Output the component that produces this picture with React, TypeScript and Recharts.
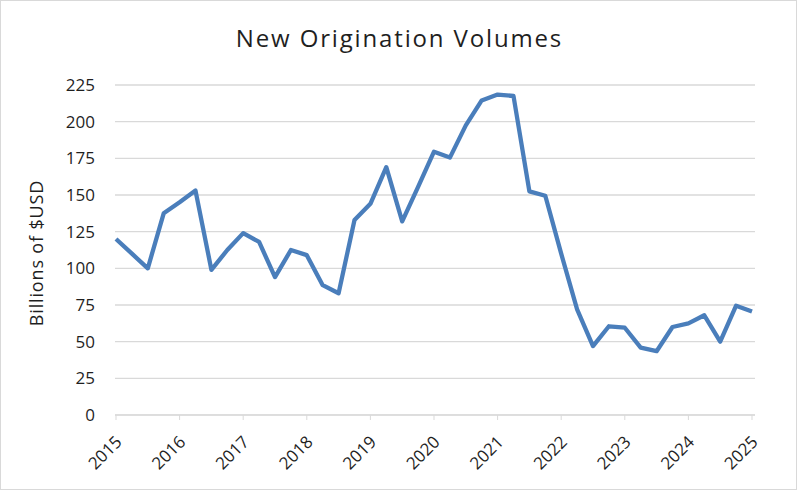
import React from "react";
import { LineChart, Line, XAxis, YAxis, CartesianGrid } from "recharts";

// years on the category axis (one label per year, data is quarterly)
const years = [2015, 2016, 2017, 2018, 2019, 2020, 2021, 2022, 2023, 2024, 2025];

// quarterly new origination volumes, billions of USD (2015 Q1 .. 2025 Q1)
const volumes = [
  120, 110, 100, 137.5,
  145, 153, 99, 112.5,
  124, 118, 94, 112.5,
  109, 88.5, 83, 133,
  144, 169, 132, 155.5,
  179.5, 175.5, 197.5, 214.5,
  218.5, 217.5, 152.5, 149.5,
  110, 72, 47, 60.5,
  59.5, 46, 43.5, 60,
  62.5, 68, 50, 74.5,
  70.5,
];

const yTicks = [0, 25, 50, 75, 100, 125, 150, 175, 200, 225];

const quarters = years.flatMap((y) => [`${y} Q1`, `${y} Q2`, `${y} Q3`, `${y} Q4`]);
const data = volumes.map((v, i) => ({ quarter: quarters[i], volume: v }));

const FONT = "'Open Sans', sans-serif";
const TEXT = "#1f1f1f";
const GRID = "#d9d9d9";

const YearTick = (props: any) => {
  const { x, y, payload } = props;
  const ax = x + 7;
  const ay = y + 21;
  return (
    <text
      x={ax}
      y={ay}
      textAnchor="end"
      fill={TEXT}
      fontSize={17}
      fontFamily={FONT}
      transform={`rotate(-45, ${ax}, ${ay})`}
    >
      {String(payload.value).slice(0, 4)}
    </text>
  );
};

export default function App() {
  return (
    <div style={{ position: "absolute", top: 0, left: 0, width: 797, height: 490, background: "#fff" }}>
      <div
        style={{
          position: "absolute",
          top: 26,
          left: 0,
          width: 797,
          paddingLeft: 2,
          boxSizing: "border-box",
          textAlign: "center",
          fontFamily: FONT,
          fontSize: 24,
          lineHeight: "24px",
          letterSpacing: 1.85,
          color: TEXT,
        }}
      >
        New Origination Volumes
      </div>
      <div
        style={{
          position: "absolute",
          left: 36 - 100,
          top: 253 - 12,
          width: 200,
          height: 24,
          lineHeight: "24px",
          textAlign: "center",
          transform: "rotate(-90deg)",
          fontFamily: FONT,
          fontSize: 18,
          letterSpacing: 0.85,
          color: TEXT,
        }}
      >
        Billions of $USD
      </div>
      <LineChart
        width={797}
        height={490}
        data={data}
        margin={{ top: 85, right: 42, left: 0, bottom: 0 }}
        style={{ position: "absolute", top: 0, left: 0 }}
      >
        <CartesianGrid vertical={false} stroke={GRID} strokeWidth={1.3} />
        <XAxis
          dataKey="quarter"
          interval={3}
          height={75}
          padding={{ left: 1, right: 3 }}
          stroke={GRID}
          tickSize={5}
          tickMargin={2}
          tick={YearTick}
        />
        <YAxis
          domain={[0, 225]}
          ticks={yTicks}
          width={115}
          axisLine={false}
          tickLine={false}
          tickMargin={14}
          tick={{ fill: TEXT, fontSize: 17, fontFamily: FONT }}
        />
        <Line
          type="linear"
          dataKey="volume"
          stroke="#4a7ebb"
          strokeWidth={4.3}
          strokeLinejoin="round"
          dot={false}
          isAnimationActive={false}
        />
      </LineChart>
      <div
        style={{
          position: "absolute",
          inset: 0,
          border: `1px solid ${GRID}`,
          pointerEvents: "none",
        }}
      />
    </div>
  );
}
